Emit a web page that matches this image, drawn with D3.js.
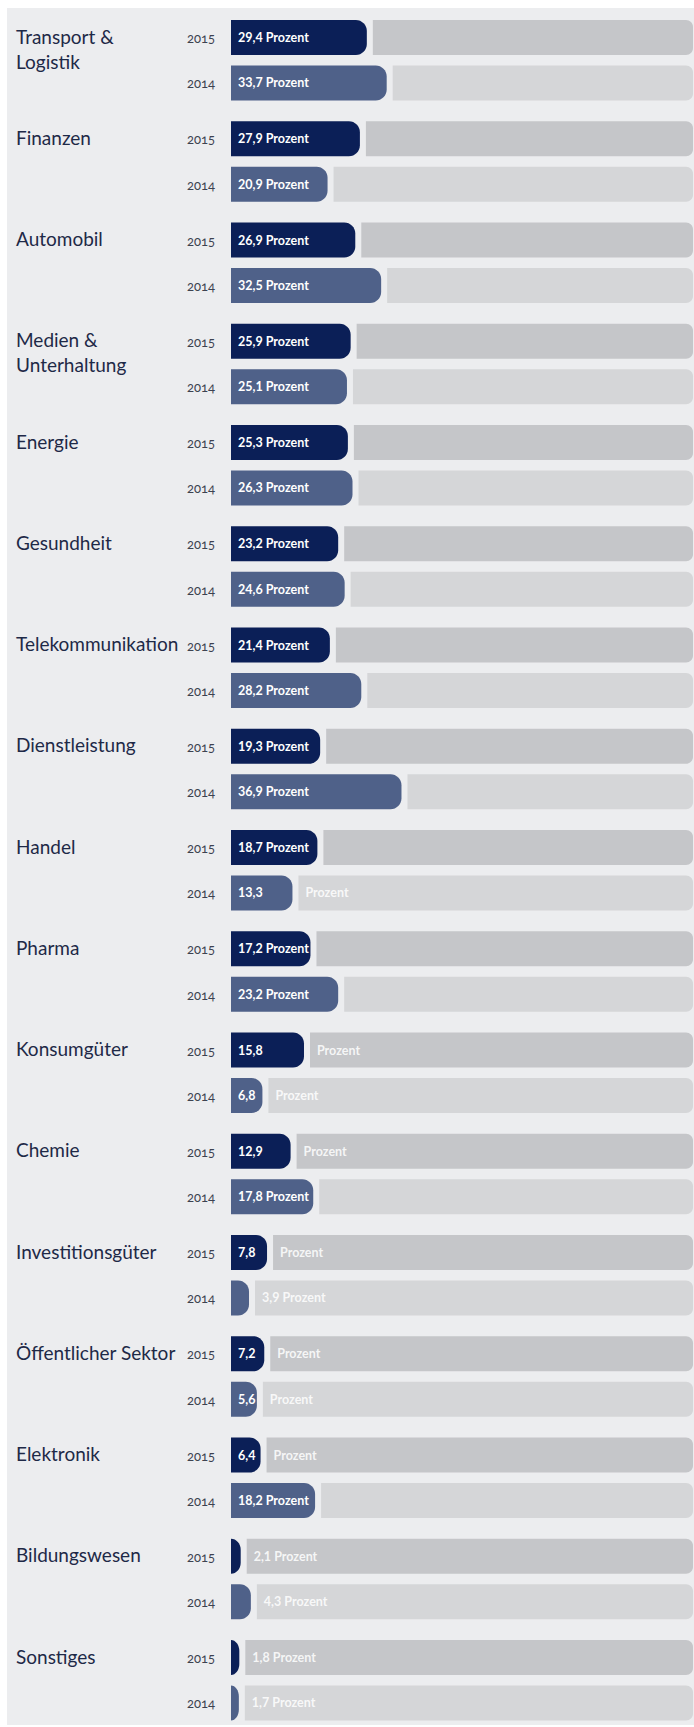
<!DOCTYPE html>
<html>
<head>
<meta charset="utf-8">
<script src="https://cdn.jsdelivr.net/npm/d3@7"></script>
<style>
  body { margin: 0; background: #fff; }
  svg { display: block; }
</style>
</head>
<body>
<script>
const categories = ["Transport & Logistik", "Finanzen", "Automobil", "Medien & Unterhaltung",
  "Energie", "Gesundheit", "Telekommunikation", "Dienstleistung", "Handel", "Pharma",
  "Konsumgüter", "Chemie", "Investitionsgüter", "Öffentlicher Sektor", "Elektronik",
  "Bildungswesen", "Sonstiges"];
const years = ["2015", "2014"];
const values2015 = [29.4, 27.9, 26.9, 25.9, 25.3, 23.2, 21.4, 19.3, 18.7, 17.2, 15.8, 12.9, 7.8, 7.2, 6.4, 2.1, 1.8];
const values2014 = [33.7, 20.9, 32.5, 25.1, 26.3, 24.6, 28.2, 36.9, 13.3, 23.2, 6.8, 17.8, 3.9, 5.6, 18.2, 4.3, 1.7];
const unit = "Prozent";

const W = 694, H = 1727;
const colors = { "2015": "#0b1f57", "2014": "#4f6189" };
const restColors = { "2015": "#c5c6c9", "2014": "#d5d6d8" };

const rows = [];
categories.forEach((c, i) => {
  rows.push({ cat: c, year: "2015", value: values2015[i] });
  rows.push({ cat: c, year: "2014", value: values2014[i] });
});

const svg = d3.select("body").append("svg").attr("width", W).attr("height", H);
svg.append("rect").attr("x", 7).attr("y", 8).attr("width", W - 7).attr("height", H - 10).attr("fill", "#ecedef");

const y = d3.scaleBand().domain(categories).range([20, 20 + categories.length * 101.25]);
const yi = d3.scaleBand().domain(years).range([0, 80.5]).paddingInner(0.23);
const x = d3.scaleLinear().domain([0, 100]).range([231, 693]);
const bh = yi.bandwidth();
const gap = 6;

// rectangle with rounded right side only
function rightRound(x0, y0, w, h, r) {
  const rx = Math.min(r, w), ry = Math.min(r, h / 2);
  const p = d3.path();
  p.moveTo(x0, y0);
  p.lineTo(x0 + w - rx, y0);
  p.bezierCurveTo(x0 + w - rx * 0.45, y0, x0 + w, y0 + ry * 0.45, x0 + w, y0 + ry);
  p.lineTo(x0 + w, y0 + h - ry);
  p.bezierCurveTo(x0 + w, y0 + h - ry * 0.45, x0 + w - rx * 0.45, y0 + h, x0 + w - rx, y0 + h);
  p.lineTo(x0, y0 + h);
  p.closePath();
  return p.toString();
}

const g = svg.append("g");
const rowY = d => y(d.cat) + yi(d.year);

// remainder bars
g.selectAll(".rest").data(rows).enter().append("path")
  .attr("fill", d => restColors[d.year])
  .attr("d", d => {
    const x0 = x(d.value) + gap;
    return rightRound(x0, rowY(d), x(100) - x0, bh, 7);
  });

// value bars
g.selectAll(".bar").data(rows).enter().append("path")
  .attr("fill", d => colors[d.year])
  .attr("d", d => rightRound(x(0), rowY(d), x(d.value) - x(0), bh, 11));

const fmt = v => String(v.toFixed(1)).replace(".", ",");
const labelFont = "Lato, 'Open Sans', sans-serif";
const fs = 12.5;

// value labels
rows.forEach(d => {
  const w = x(d.value) - x(0);
  const ty = rowY(d) + bh / 2 + 4.5;
  const t = g.append("text").attr("y", ty).attr("fill", "#fff")
    .attr("font-family", labelFont).attr("font-weight", 700).attr("font-size", fs);
  if (w >= 76) {
    t.attr("x", x(0) + 7).text(fmt(d.value) + " " + unit);
  } else if (w >= 24) {
    t.attr("x", x(0) + 7).text(fmt(d.value));
    g.append("text").attr("x", x(d.value) + gap + 7).attr("y", ty).attr("fill", "#fff")
      .attr("fill-opacity", 0.85)
      .attr("font-family", labelFont).attr("font-weight", 700).attr("font-size", fs)
      .text(unit);
  } else {
    t.attr("x", x(d.value) + gap + 7).attr("fill-opacity", 0.85).text(fmt(d.value) + " " + unit);
  }
});

// year labels
g.selectAll(".year").data(rows).enter().append("text")
  .attr("x", 187).attr("y", d => rowY(d) + bh / 2 + 5.5)
  .attr("fill", "#3d4250").attr("font-family", labelFont).attr("font-size", 13)
  .style("font-feature-settings", "'onum'")
  .text(d => d.year);

// category labels
categories.forEach(c => {
  const lines = c.split(/(?<=&) /);
  const t = g.append("text").attr("x", 16).attr("y", y(c) + yi("2015") + bh / 2 + 6)
    .attr("fill", "#1e2947").attr("font-family", labelFont).attr("font-size", 19);
  lines.forEach((l, i) => {
    t.append("tspan").attr("x", 16).attr("dy", i === 0 ? 0 : 25).text(l);
  });
});
</script>
</body>
</html>
